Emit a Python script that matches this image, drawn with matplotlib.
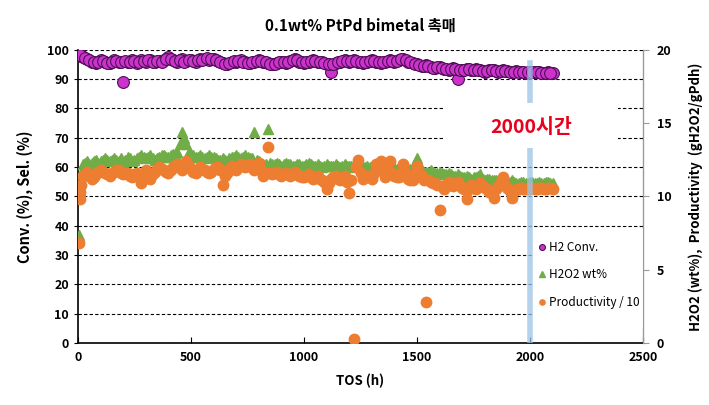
import matplotlib
matplotlib.use('Agg')
import matplotlib.pyplot as plt
from matplotlib.patches import Rectangle

plt.rcParams['font.family'] = ['Noto Sans CJK KR', 'DejaVu Sans']

# time on stream (h), first sampling set
tos = [3, 8, 14,
       20, 40, 60, 80, 100, 120, 140, 160, 180, 200,
       220, 240, 260, 280, 300, 320, 340, 360, 380, 400,
       420, 440, 460, 480, 500, 520, 540, 560, 580, 600,
       620, 640, 660, 680, 700, 720, 740, 760, 780, 800,
       820, 840, 860, 880, 900, 920, 940, 960, 980, 1000,
       1020, 1040, 1060, 1080, 1100, 1120, 1140, 1160, 1180, 1200,
       1220, 1240, 1260, 1280, 1300, 1320, 1340, 1360, 1380, 1400,
       1420, 1440, 1460, 1480, 1500, 1520, 1540, 1560, 1580, 1600,
       1620, 1640, 1660, 1680, 1700, 1720, 1740, 1760, 1780, 1800,
       1820, 1840, 1860, 1880, 1900, 1920, 1940, 1960, 1980, 2000,
       2020, 2040, 2060, 2080, 2100]

# second sampling set, in between
tos_b = [10, 30, 50, 70, 90, 110, 130, 150, 170, 190,
         210, 230, 250, 270, 290, 310, 330, 350, 370, 390,
         410, 430, 450, 470, 490, 510, 530, 550, 570, 590,
         610, 630, 650, 670, 690, 710, 730, 750, 770, 790,
         810, 830, 850, 870, 890, 910, 930, 950, 970, 990,
         1010, 1030, 1050, 1070, 1090, 1110, 1130, 1150, 1170, 1190,
         1210, 1230, 1250, 1270, 1290, 1310, 1330, 1350, 1370, 1390,
         1410, 1430, 1450, 1470, 1490, 1510, 1530, 1550, 1570, 1590,
         1610, 1630, 1650, 1670, 1690, 1710, 1730, 1750, 1770, 1790,
         1810, 1830, 1850, 1870, 1890, 1910, 1930, 1950, 1970, 1990,
         2010, 2030, 2050, 2070, 2090]

# H2 conversion (%) - left axis
h2_conv = [99.0, 98.5, 98.0,
           97.5, 97.0, 96.0, 95.5, 96.5, 96.0, 95.5, 96.5, 96.0, 89.0,
           96.0, 96.5, 95.5, 96.5, 96.0, 96.5, 95.8, 96.2, 96.5, 97.5,
           96.5, 96.0, 96.8, 96.2, 96.5, 96.0, 96.8, 97.0, 96.5, 97.0,
           96.2, 95.5, 95.0, 95.8, 96.0, 96.5, 95.8, 95.5, 96.0, 96.5,
           96.0, 95.5, 95.0, 95.5, 96.0, 95.5, 96.2, 96.8, 96.0, 95.5,
           96.0, 96.5, 96.0, 95.8, 95.0, 92.5, 95.5, 96.0, 96.5, 96.0,
           96.5, 96.0, 95.5, 96.0, 96.5, 96.0, 95.5, 96.0, 96.5, 96.0,
           96.5, 97.0, 96.0, 95.5, 95.0, 94.5, 94.8, 94.0, 93.8, 94.2,
           93.5, 93.2, 93.8, 90.0, 93.0, 93.5, 93.0, 93.4, 93.0, 92.6,
           93.2, 93.0, 92.5, 93.0, 92.8, 92.4, 92.8, 92.5, 92.2, 92.6,
           92.3, 92.5, 92.0, 92.3, 92.0]
h2_conv_b = [98.2, 97.2, 96.5, 95.8, 96.0, 96.3, 95.6, 96.0, 96.3, 95.8,
             96.2, 96.0, 96.3, 95.9, 96.2, 96.4, 96.0, 96.3, 95.9, 96.8,
             97.0, 96.3, 96.5, 96.0, 96.4, 96.2, 96.5, 96.6, 97.2, 96.7,
             96.5, 95.8, 95.3, 95.5, 96.2, 96.3, 96.0, 95.6, 95.8, 96.2,
             96.3, 95.8, 95.3, 95.2, 95.8, 95.8, 95.9, 96.5, 96.4, 95.7,
             95.8, 96.3, 96.2, 95.9, 95.6, 95.2, 95.0, 95.8, 96.3, 96.2,
             96.3, 96.2, 95.8, 95.7, 96.3, 96.2, 95.7, 95.8, 96.3, 96.2,
             96.3, 96.8, 96.5, 95.8, 95.2, 94.8, 94.6, 94.4, 93.9, 94.0,
             93.8, 93.3, 93.5, 93.4, 93.2, 93.2, 93.3, 93.1, 93.2, 92.8,
             92.9, 93.1, 92.7, 92.8, 92.9, 92.6, 92.6, 92.6, 92.3, 92.4,
             92.4, 92.4, 92.2, 92.1, 92.1]

# H2O2 wt% - right axis
h2o2_wt = [7.4, 10.4, 11.6,
           12.2, 12.4, 12.3, 12.5, 12.4, 12.6, 12.4, 12.6, 12.4, 12.3,
           12.7, 12.4, 12.6, 12.8, 12.6, 12.8, 12.5, 12.7, 12.8, 12.7,
           12.9, 13.0, 14.4, 13.6, 12.9, 12.7, 12.8, 12.6, 12.8, 12.7,
           12.5, 12.6, 12.4, 12.7, 12.8, 12.6, 12.8, 12.6, 14.4, 12.4,
           12.2, 14.6, 12.2, 12.3, 12.1, 12.3, 12.2, 12.1, 12.2, 12.1,
           12.3, 12.1, 12.2, 12.0, 12.2, 12.1, 12.2, 12.0, 12.2, 12.1,
           12.0, 12.2, 12.0, 12.1, 12.0, 12.1, 11.9, 12.0, 11.9, 12.0,
           11.8, 11.9, 11.8, 12.0, 12.6, 11.8, 11.7, 11.8, 11.6, 11.7,
           11.5, 11.6, 11.4, 11.5, 11.3, 11.4, 11.2, 11.3, 11.5, 11.1,
           11.2, 11.1, 11.0, 11.1, 11.0, 11.1, 10.9, 11.0, 10.9, 11.0,
           10.9, 11.0, 10.9, 11.0, 10.9]
h2o2_wt_b = [11.0, 12.3, 12.2, 12.4, 12.3, 12.5, 12.5, 12.5, 12.5, 12.6,
             12.5, 12.6, 12.5, 12.7, 12.7, 12.7, 12.6, 12.6, 12.8, 12.7,
             12.8, 12.9, 13.6, 14.0, 13.0, 12.8, 12.7, 12.7, 12.7, 12.7,
             12.6, 12.5, 12.5, 12.6, 12.7, 12.7, 12.7, 12.7, 12.6, 12.5,
             12.3, 12.2, 12.3, 12.2, 12.2, 12.2, 12.2, 12.1, 12.2, 12.1,
             12.2, 12.2, 12.1, 12.1, 12.1, 12.1, 12.1, 12.1, 12.1, 12.1,
             12.1, 12.1, 12.1, 12.0, 12.0, 12.0, 12.0, 11.9, 12.0, 11.9,
             11.9, 11.8, 11.9, 11.9, 12.3, 12.1, 11.7, 11.7, 11.7, 11.6,
             11.6, 11.5, 11.5, 11.4, 11.4, 11.3, 11.3, 11.3, 11.4, 11.2,
             11.2, 11.1, 11.1, 11.0, 11.0, 11.0, 11.0, 10.9, 11.0, 10.9,
             11.0, 10.9, 10.9, 11.0, 10.9]

# Productivity / 10 - right axis
prod_10 = [6.8, 9.8, 10.8,
           11.4, 11.7, 11.2, 11.5, 11.8, 11.6, 11.4, 11.7, 11.8, 11.5,
           11.6, 11.3, 11.6, 10.9, 11.8, 11.2, 11.7, 12.0, 11.8, 11.6,
           12.0, 12.2, 11.8, 12.4, 11.9, 11.6, 12.0, 11.8, 11.6, 11.9,
           12.0, 10.8, 11.6, 12.1, 11.8, 12.2, 12.0, 12.2, 11.8, 12.3,
           11.4, 13.4, 11.5, 11.7, 11.4, 11.6, 11.4, 11.7, 11.4, 11.3,
           11.5, 11.2, 11.4, 11.1, 10.5, 11.2, 11.4, 11.1, 11.4, 10.2,
           0.3, 12.5, 11.2, 11.4, 11.2, 12.2, 12.4, 11.3, 12.4, 11.4,
           11.3, 12.2, 11.2, 11.1, 12.1, 11.4, 2.8, 11.0, 10.9, 9.1,
           10.5, 11.0, 10.7, 11.0, 10.6, 9.8, 10.8, 10.5, 10.9, 10.6,
           10.3, 9.9, 10.7, 11.3, 10.6, 9.9, 10.5, 10.6, 10.5, 10.6,
           10.5, 10.6, 10.5, 10.6, 10.5]
prod_10_b = [10.3, 11.5, 11.4, 11.3, 11.7, 11.7, 11.5, 11.6, 11.8, 11.6,
             11.6, 11.4, 11.5, 11.3, 11.5, 11.4, 11.5, 11.9, 11.9, 11.7,
             11.8, 12.1, 12.0, 12.1, 12.1, 11.7, 11.8, 11.9, 11.7, 11.7,
             12.0, 11.8, 11.4, 11.9, 11.9, 12.0, 12.1, 12.1, 12.0, 12.0,
             11.8, 11.6, 11.6, 11.6, 11.5, 11.5, 11.5, 11.5, 11.5, 11.3,
             11.4, 11.3, 11.3, 11.2, 11.0, 10.9, 11.3, 11.2, 11.2, 11.0,
             11.1, 12.0, 11.6, 11.3, 11.3, 11.6, 12.2, 11.8, 11.8, 11.6,
             11.3, 11.6, 11.6, 11.1, 11.5, 11.6, 11.1, 11.1, 10.9, 10.8,
             10.7, 10.8, 10.8, 10.9, 10.8, 10.5, 10.5, 10.6, 10.7, 10.7,
             10.5, 10.3, 10.5, 11.0, 10.8, 10.4, 10.4, 10.5, 10.5, 10.5,
             10.6, 10.5, 10.6, 10.5, 10.6]

fig = plt.figure(figsize=(7.09, 4.05), dpi=100)
ax = fig.add_axes([0.110, 0.153, 0.797, 0.724])
ax2 = ax.twinx()

ax.plot(tos + tos_b, h2_conv + h2_conv_b, 'o', ms=8.5, mfc='#cc33cc',
        mec='#4e0f55', mew=0.8, label='H2 Conv.', zorder=3)
ax2.plot(tos + tos_b, h2o2_wt + h2o2_wt_b, '^', ms=7.5, mfc='#70ad47',
         mec='#70ad47', label='H2O2 wt%', zorder=3)
ax2.plot(tos + tos_b, prod_10 + prod_10_b, 'o', ms=7.5, mfc='#ed7d31',
         mec='#ed7d31', label='Productivity / 10', zorder=4)

# 2000 h marker line
ax2.axvline(2000, ymin=0, ymax=0.955, color='#9dc3e6', lw=4, alpha=0.75, zorder=5)

ax.set_xlim(0, 2500)
ax.set_ylim(0, 100)
ax2.set_ylim(0, 20)
ax.set_xticks(range(0, 2501, 500))
ax.set_yticks(range(0, 101, 10))
ax2.set_yticks(range(0, 21, 5))

ax.yaxis.grid(True, linestyle=(0, (3, 2)), color='black', lw=0.8)
ax.set_axisbelow(True)

# white boxes behind the annotation and the legend
ax2.add_patch(Rectangle((1620, 13.3), 770, 3.1, facecolor='white',
                        edgecolor='none', zorder=6))
ax2.add_patch(Rectangle((2012, 1.0), 488, 6.8, facecolor='white',
                        edgecolor='none', zorder=2))
ax2.text(2005, 14.7, '2000시간', color='#e8001c', fontsize=14,
         fontweight='bold', ha='center', va='center', zorder=7)

for a in (ax, ax2):
    a.spines['top'].set_visible(False)
ax.spines['left'].set_linewidth(1.2)
ax.spines['bottom'].set_linewidth(1.2)
ax2.spines['left'].set_visible(False)
ax2.spines['bottom'].set_visible(False)
ax2.spines['right'].set_color('#999999')

ax.tick_params(axis='x', direction='in', length=4, labelsize=9, pad=6)
ax.tick_params(axis='y', direction='out', length=3, labelsize=9)
ax2.tick_params(axis='y', direction='out', length=4, color='#999999',
                labelsize=9, pad=6)
for lbl in ax.get_xticklabels() + ax.get_yticklabels() + ax2.get_yticklabels():
    lbl.set_fontweight('bold')

ax.set_xlabel('TOS (h)', fontsize=9.5, fontweight='bold', labelpad=7)
ax.set_ylabel('Conv. (%), Sel. (%)', fontsize=10.5, fontweight='bold', labelpad=10)
ax2.set_ylabel('H2O2 (wt%),  Productivity  (gH2O2/gPdh)', fontsize=9.5,
               fontweight='bold', labelpad=12)
ax.set_title('0.1wt% PtPd bimetal 촉매', fontsize=11, fontweight='bold', pad=14)

h1, l1 = ax.get_legend_handles_labels()
h2, l2 = ax2.get_legend_handles_labels()
leg = ax2.legend(h1 + h2, l1 + l2, loc='upper left', bbox_to_anchor=(0.808, 0.365),
                 frameon=False, fontsize=8.5, markerscale=0.5, handlelength=0.5,
                 handletextpad=0.3, labelspacing=1.25, borderaxespad=0)
leg.set_zorder(8)

fig.savefig('out.png', dpi=100)
